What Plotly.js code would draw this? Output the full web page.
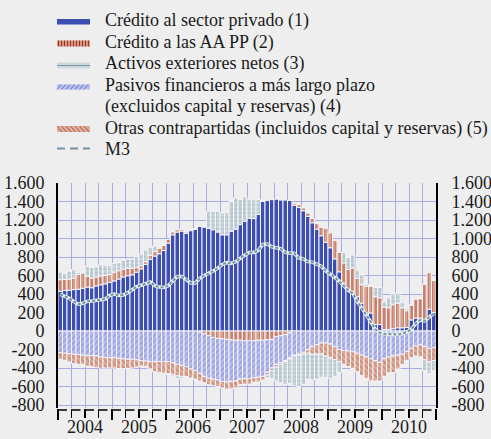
<!DOCTYPE html>
<html><head><meta charset="utf-8">
<script src="https://cdn.plot.ly/plotly-3.0.1.min.js"></script>
<style>html,body{margin:0;padding:0;background:#eeeeee;}#chart{width:491px;height:439px;}</style>
</head><body><div id="chart"></div>
<script>
// Monthly data, Jan 2004 – Dec 2010 (84 months)
const years = ['2004','2005','2006','2007','2008','2009','2010'];
const yTickVals = [-800,-600,-400,-200,0,200,400,600,800,1000,1200,1400,1600];
const yTickText = ['-800','-600','-400','-200','0','200','400','600','800','1.000','1.200','1.400','1.600'];

const creditoPrivado = [
 430,438,442,448,452,462,475,468,488,500,510,525,
 542,562,585,598,607,636,672,720,775,810,835,870,
 950,1040,1070,1080,1055,1085,1100,1130,1125,1110,1095,1070,
 1040,1040,1080,1100,1150,1185,1220,1215,1260,1400,1410,1420,
 1425,1415,1415,1410,1360,1335,1300,1240,1170,1100,1030,960,
 900,780,640,520,450,430,370,300,195,195,70,70,
 15,15,25,35,35,40,120,140,140,120,235,200];
const creditoAAPP = [
 125,120,120,125,160,165,115,105,95,95,90,85,
 95,90,85,80,70,50,35,30,45,50,60,55,
 40,30,25,20,15,10,5,-10,-30,-50,-70,-80,
 -85,-90,-95,-100,-100,-105,-105,-105,-100,-100,-95,-90,
 -60,-50,-40,-20,20,30,30,35,45,60,90,150,
 160,200,210,217,215,250,200,200,290,290,300,290,
 240,236,260,265,216,180,160,208,210,383,395,345];
const activosExteriores = [
 80,65,85,95,20,10,110,115,110,120,110,100,
 95,90,95,100,100,120,125,130,80,60,10,0,
 -10,-20,-30,-20,-10,-5,0,0,0,185,200,225,
 237,240,320,340,270,265,200,205,160,10,-30,-80,
 -150,-200,-250,-270,-320,-340,-330,-280,-280,-270,-250,-230,
 -220,-180,-120,110,130,140,90,110,20,0,100,110,
 60,110,120,110,60,20,0,0,0,-120,-130,-110];
const pasivosLargoPlazo = [
 -236,-240,-245,-250,-255,-260,-265,-265,-270,-280,-285,-290,
 -290,-295,-300,-305,-305,-310,-320,-325,-330,-330,-330,-330,
 -330,-345,-360,-370,-385,-410,-430,-450,-460,-460,-450,-450,
 -460,-460,-450,-440,-420,-410,-410,-400,-400,-390,-350,-310,
 -300,-290,-280,-270,-260,-250,-230,-200,-170,-150,-130,-130,
 -140,-170,-200,-210,-215,-225,-240,-260,-280,-300,-320,-340,
 -300,-280,-270,-260,-250,-220,-190,-160,-150,-170,-190,-180];
const otrasContrapartidas = [
 -70,-75,-90,-100,-105,-100,-115,-120,-125,-120,-115,-110,
 -110,-110,-105,-100,-95,-80,-60,-55,-80,-110,-120,-125,
 -130,-130,-125,-120,-110,-100,-90,-80,-70,-70,-70,-70,
 -70,-80,-80,-75,-60,-60,-60,-50,-50,-40,-30,-30,
 -30,-20,-10,-10,-10,-10,-20,-40,-80,-100,-120,-140,
 -150,-140,-130,-150,-170,-180,-200,-220,-230,-240,-220,-200,
 -190,-170,-180,-150,-110,-100,-100,-110,-130,-140,-140,-140];
const m3 = [
 395,375,355,320,290,300,320,325,330,335,345,385,
 400,385,390,415,450,480,495,515,530,490,475,470,
 490,540,590,590,560,520,520,570,600,620,650,680,
 720,740,730,750,790,820,850,850,870,935,940,910,
 900,890,850,840,840,790,780,750,745,720,700,650,
 620,580,540,490,440,410,320,250,175,100,20,-20,
 -30,-35,-38,-38,-30,-10,20,80,120,110,150,190];

const legendLabels = [
 'Crédito al sector privado (1)',
 'Crédito a las AA PP (2)',
 'Activos exteriores netos (3)',
 'Pasivos financieros a más largo plazo',
 '(excluidos capital y reservas) (4)',
 'Otras contrapartidas (incluidos capital y reservas) (5)',
 'M3'];

const xIdx = creditoPrivado.map((_, i) => i);
const nQ = creditoPrivado.length / 3;
const quarterVals = Array.from({length: nQ + 1}, (_, i) => -0.5 + 3 * i);
const yearBounds = Array.from({length: years.length + 1}, (_, i) => -0.5 + 12 * i);
const yearCenters = years.map((_, i) => 5.5 + 12 * i);

const C = {
  blue: '#3d4eb1', aaBg: '#d7a08c', aaFg: '#a4372a',
  actBg: '#cdd9dc', actFg: '#7a97a0', pasBg: '#b7bbea', pasFg: '#7078cc',
  otrBg: '#ddac9a', otrFg: '#a95c4a', m3: '#7494a0', grid: '#a8aae6'
};
const barLine = {color: '#f4f4fa', width: 1};

const traces = [
  {type:'bar', x:xIdx, y:creditoPrivado, marker:{color:C.blue, line:barLine}},
  {type:'bar', x:xIdx, y:creditoAAPP, marker:{color:C.aaBg, line:barLine,
     pattern:{shape:'|', fgcolor:C.aaFg, size:4, solidity:0.3, fillmode:'overlay'}}},
  {type:'bar', x:xIdx, y:pasivosLargoPlazo, marker:{color:C.pasBg, line:barLine,
     pattern:{shape:'/', fgcolor:C.pasFg, size:4, solidity:0.3, fillmode:'overlay'}}},
  {type:'bar', x:xIdx, y:otrasContrapartidas, marker:{color:C.otrBg, line:barLine,
     pattern:{shape:'\\', fgcolor:C.otrFg, size:4, solidity:0.3, fillmode:'overlay'}}},
  {type:'bar', x:xIdx, y:activosExteriores, marker:{color:C.actBg, line:barLine,
     pattern:{shape:'+', fgcolor:C.actFg, size:4, solidity:0.3, fillmode:'overlay'}}},
  {type:'scatter', mode:'lines', x:xIdx, y:m3, xaxis:'x2', yaxis:'y2',
     line:{color:'#e8eff1', width:3.5}, hoverinfo:'skip'},
  {type:'scatter', mode:'lines', x:xIdx, y:m3, xaxis:'x2', yaxis:'y2',
     line:{color:C.m3, width:2, dash:'3px,2px'}},
  {type:'scatter', mode:'lines', x:[null], y:[null], xaxis:'x3', yaxis:'y'}
];

const L = 58, R = 436, T = 183, B = 408;
const px = x => (x - L) / (R - L);
const py = y => (B - y) / (B - T);
const xr = [-0.5, creditoPrivado.length - 0.5];
const yr = [-832, 1600];
const font = {family: 'Liberation Serif', size: 18, color: '#1a1a1a'};

const shapes = [];
const rect = (x0, y0, x1, y1, fill) => shapes.push({type:'rect', xref:'paper', yref:'paper',
  x0:px(x0), x1:px(x1), y0:py(y1), y1:py(y0), fillcolor:fill, line:{width:0}, layer:'above'});
const seg = (x0, y0, x1, y1, color, w, dash) => shapes.push({type:'line', xref:'paper', yref:'paper',
  x0:px(x0), x1:px(x1), y0:py(y0), y1:py(y1), line:{color:color, width:w, dash:dash||'solid'}, layer:'above'});

// legend swatches
const sx0 = 57, sx1 = 90;
rect(sx0, 19, sx1, 24.5, C.blue);
rect(sx0, 40.5, sx1, 46.5, C.aaBg);
for (let x = sx0 + 1.5; x < sx1; x += 3) seg(x, 40.5, x, 46.5, C.aaFg, 1.2);
rect(sx0, 62.5, sx1, 68.5, C.actBg);
seg(sx0, 65.5, sx1, 65.5, C.actFg, 1.2);
rect(sx0, 84.5, sx1, 89.5, C.pasBg);
for (let x = sx0; x < sx1 - 3; x += 4.5) seg(x, 89.5, x + 4, 84.5, C.pasFg, 1);
rect(sx0, 126, sx1, 132, C.otrBg);
for (let x = sx0; x < sx1 - 4; x += 4.5) seg(x, 126, x + 5, 132, C.otrFg, 1);
seg(sx0, 148.5, sx1, 148.5, C.m3, 2, '8px,5px');
// tick row horizontal segments
seg(L, 410, R, 410, '#000', 1.4, '9px,4.5px');

const legendY = [20.7, 42.3, 63.5, 85, 106.7, 128.3, 148.5];
const annotations = legendLabels.map((t, i) => ({
  xref:'paper', yref:'paper', x:px(103), y:py(legendY[i]), xanchor:'left', yanchor:'middle',
  text:t, showarrow:false, font:font
}));

const layout = {
  width:491, height:439,
  paper_bgcolor:'#eeeeee', plot_bgcolor:'#eeeeee',
  margin:{l:L, r:491 - R, t:T, b:439 - B, pad:0},
  barmode:'relative', bargap:0,
  showlegend:false, font:font,
  xaxis:{range:xr, tickmode:'array', tickvals:quarterVals, showticklabels:false,
    showgrid:true, gridcolor:C.grid, gridwidth:1, ticks:'outside', ticklen:9, tickwidth:1.2,
    tickcolor:'#000', zeroline:false, showline:false, fixedrange:true},
  xaxis2:{range:xr, overlaying:'x', anchor:'y', side:'bottom', tickmode:'array',
    tickvals:yearCenters, ticktext:years, ticks:'', showgrid:false, zeroline:false,
    showline:false, ticklabelstandoff:6, tickfont:font},
  xaxis3:{range:xr, overlaying:'x', anchor:'y', side:'bottom', tickmode:'array',
    tickvals:yearBounds, showticklabels:false, ticks:'outside', ticklen:11, tickwidth:2.5,
    tickcolor:'#000', showgrid:false, zeroline:false, showline:false},
  yaxis:{range:yr, tickmode:'array', tickvals:yTickVals, ticktext:yTickText,
    showgrid:true, gridcolor:C.grid, gridwidth:1, zeroline:false, showline:true,
    linecolor:'#000', linewidth:2, ticks:'', ticklabelstandoff:8, tickfont:font},
  yaxis2:{range:yr, overlaying:'y', side:'right', tickmode:'array', tickvals:yTickVals,
    ticktext:yTickText, showgrid:false, zeroline:false, showline:true, linecolor:'#000',
    linewidth:2, ticks:'', ticklabelstandoff:10, tickfont:font},
  shapes:shapes, annotations:annotations
};

Plotly.newPlot('chart', traces, layout, {displayModeBar:false, staticPlot:true});
</script></body></html>
